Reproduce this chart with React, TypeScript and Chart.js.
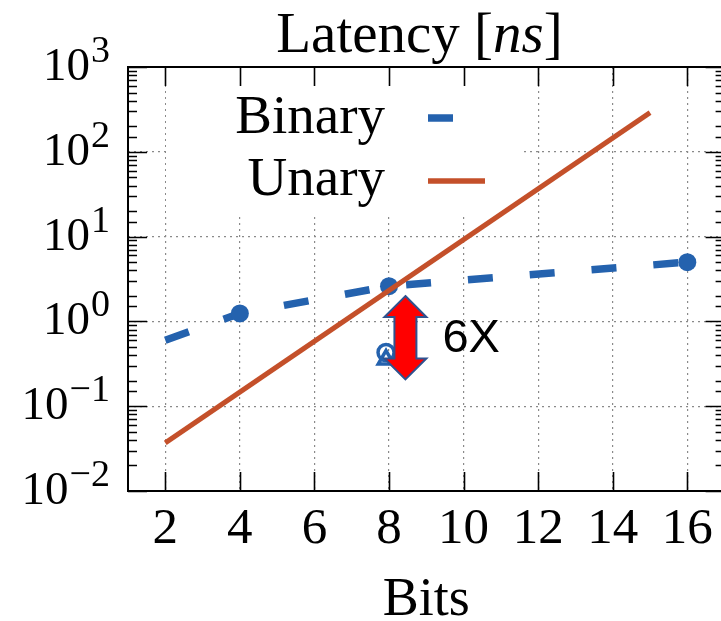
import { useEffect, useRef } from "react";
import { Chart, registerables } from "chart.js";

Chart.register(...registerables);

// ---------- data ----------
const xTicks = [2, 4, 6, 8, 10, 12, 14, 16];
const xMin = 1;
const xMax = 17;
const yDecades = [-2, -1, 0, 1, 2, 3];

const binaryBits = [2, 4, 8, 16];
const binaryLatency = [0.6, 1.24, 2.6, 5.0];
const binaryMarkerRadius = [0, 9, 9, 9];

const unaryBits = [2, 15];
const unaryLatency = [0.037, 290];

const optCircleBits = [7.92];
const optCircleLatency = [0.43];
const optTriangleBits = [7.92];
const optTriangleLatency = [0.355];

const arrowBits = 8.44;
const arrowLow = 0.207;
const arrowHigh = 1.99;
const arrowLabel = "6X";

const legendLabels = ["Binary", "Unary"];
const titleText = ["Latency [", "ns", "]"];
const xTitle = "Bits";

// ---------- styles ----------
const BLUE = "#2462AE";
const RED = "#C4502A";
const GRID = "#8a8a8a";
const SERIF = '"Liberation Serif", "Times New Roman", serif';
const SANS = '"Liberation Sans", Arial, sans-serif';

const toPts = (xs: number[], ys: number[]) => xs.map((x, i) => ({ x, y: ys[i] }));
const isDecade = (v: number) => {
  const l = Math.log10(v);
  return Math.abs(l - Math.round(l)) < 1e-6;
};

const decorPlugin = {
  id: "decor",
  beforeDatasetsDraw(chart: any) {
    const { ctx, chartArea } = chart;
    // opaque key box: hides the grid under the legend
    ctx.save();
    ctx.fillStyle = "#ffffff";
    ctx.fillRect(166, chartArea.top + 1, 523 - 166, 214 - chartArea.top - 1);
    ctx.restore();
  },
  afterDatasetsDraw(chart: any) {
    const { ctx } = chart;
    const xs = chart.scales.x;
    const ys = chart.scales.y;
    const cx = xs.getPixelForValue(arrowBits);
    const top = ys.getPixelForValue(arrowHigh);
    const bot = ys.getPixelForValue(arrowLow);
    const headW = 21;
    const shaftW = 11;
    const headH = 21;
    ctx.save();
    ctx.beginPath();
    ctx.moveTo(cx, top);
    ctx.lineTo(cx + headW, top + headH);
    ctx.lineTo(cx + shaftW, top + headH);
    ctx.lineTo(cx + shaftW, bot - headH);
    ctx.lineTo(cx + headW, bot - headH);
    ctx.lineTo(cx, bot);
    ctx.lineTo(cx - headW, bot - headH);
    ctx.lineTo(cx - shaftW, bot - headH);
    ctx.lineTo(cx - shaftW, top + headH);
    ctx.lineTo(cx - headW, top + headH);
    ctx.closePath();
    ctx.fillStyle = "#FF0000";
    ctx.fill();
    ctx.strokeStyle = "#2F528F";
    ctx.lineWidth = 2;
    ctx.lineJoin = "miter";
    ctx.stroke();
    // label
    ctx.fillStyle = "#000";
    ctx.font = `47px ${SANS}`;
    ctx.textAlign = "left";
    ctx.textBaseline = "alphabetic";
    ctx.fillText(arrowLabel, cx + 37, (top + bot) / 2 + 14);
    ctx.restore();
  },
  afterDraw(chart: any) {
    const { ctx, chartArea } = chart;
    const xs = chart.scales.x;
    const ys = chart.scales.y;
    const { left, right, top, bottom } = chartArea;
    ctx.save();
    // frame
    ctx.strokeStyle = "#000";
    ctx.lineWidth = 2;
    ctx.strokeRect(left, top, right - left, bottom - top);
    // x ticks (bottom + top, inward)
    ctx.lineWidth = 1.6;
    ctx.beginPath();
    xTicks.forEach((v) => {
      const px = Math.round(xs.getPixelForValue(v)) + 0.5;
      ctx.moveTo(px, bottom);
      ctx.lineTo(px, bottom - 19);
      ctx.moveTo(px, top);
      ctx.lineTo(px, top + 19);
    });
    // y ticks (left + right, inward), major + minor
    ys.ticks.forEach((t: any) => {
      const v = t.value;
      if (v < 0.0099 || v > 1001) return;
      const py = Math.round(ys.getPixelForValue(v)) + 0.5;
      const len = isDecade(v) ? 19 : 9;
      ctx.moveTo(left, py);
      ctx.lineTo(left + len, py);
      ctx.moveTo(right, py);
      ctx.lineTo(right - len, py);
    });
    ctx.stroke();

    // y tick labels 10^e
    ctx.fillStyle = "#000";
    ctx.textBaseline = "alphabetic";
    ctx.textAlign = "left";
    yDecades.forEach((e) => {
      const py = ys.getPixelForValue(Math.pow(10, e));
      const sup = e < 0 ? "\u2212" + Math.abs(e) : String(e);
      ctx.font = `38px ${SERIF}`;
      const supW = ctx.measureText(sup).width;
      ctx.font = `47px ${SERIF}`;
      const baseW = ctx.measureText("10").width;
      const supX = 110 - supW;
      const baseX = supX - baseW - 1;
      ctx.fillText("10", baseX, py + 13);
      ctx.font = `38px ${SERIF}`;
      ctx.fillText(sup, supX, py - 5);
    });

    // title
    const tFont = [`57px ${SERIF}`, `italic 57px ${SERIF}`, `57px ${SERIF}`];
    const widths = titleText.map((s, i) => {
      ctx.font = tFont[i];
      return ctx.measureText(s).width;
    });
    const total = widths.reduce((a, b) => a + b, 0);
    let tx = 419.5 - total / 2;
    titleText.forEach((s, i) => {
      ctx.font = tFont[i];
      ctx.fillText(s, tx, 52);
      tx += widths[i];
    });

    // legend
    ctx.font = `55px ${SERIF}`;
    ctx.textAlign = "right";
    ctx.fillText(legendLabels[0], 385, 133);
    ctx.fillText(legendLabels[1], 385, 195);
    ctx.lineCap = "butt";
    ctx.strokeStyle = BLUE;
    ctx.lineWidth = 7.5;
    ctx.setLineDash([25, 37]);
    ctx.beginPath();
    ctx.moveTo(428, 118);
    ctx.lineTo(485, 118);
    ctx.stroke();
    ctx.setLineDash([]);
    ctx.strokeStyle = RED;
    ctx.lineWidth = 5.5;
    ctx.beginPath();
    ctx.moveTo(428, 181);
    ctx.lineTo(485, 181);
    ctx.stroke();
    ctx.restore();
  },
};

export default function App() {
  const ref = useRef<HTMLCanvasElement>(null);
  useEffect(() => {
    const canvas = ref.current!;
    const chart = new Chart(canvas, {
      type: "line",
      data: {
        datasets: [
          {
            label: legendLabels[1],
            data: toPts(unaryBits, unaryLatency),
            borderColor: RED,
            borderWidth: 5,
            pointRadius: 0,
            fill: false,
            tension: 0,
            order: 0,
          },
          {
            label: legendLabels[0],
            data: toPts(binaryBits, binaryLatency),
            borderColor: BLUE,
            backgroundColor: BLUE,
            borderWidth: 7.5,
            borderDash: [25, 37],
            borderCapStyle: "butt",
            pointRadius: binaryMarkerRadius,
            pointBackgroundColor: BLUE,
            pointBorderWidth: 0,
            fill: false,
            tension: 0,
            order: 1,
          },
          {
            label: "opt-circle",
            data: toPts(optCircleBits, optCircleLatency),
            showLine: false,
            pointStyle: "circle",
            pointRadius: 8,
            pointBorderWidth: 3.5,
            pointBorderColor: BLUE,
            pointBackgroundColor: "rgba(255,255,255,0)",
            order: 3,
          },
          {
            label: "opt-triangle",
            data: toPts(optTriangleBits, optTriangleLatency),
            showLine: false,
            pointStyle: "triangle",
            pointRadius: 9,
            pointBorderWidth: 3.5,
            pointBorderColor: BLUE,
            pointBackgroundColor: "rgba(255,255,255,0)",
            order: 2,
          },
        ],
      },
      plugins: [decorPlugin],
      options: {
        animation: false,
        responsive: false,
        devicePixelRatio: 1,
        layout: { autoPadding: false, padding: { top: 67, right: 0.4, left: 0, bottom: 0 } },
        plugins: {
          legend: { display: false },
          title: { display: false },
          tooltip: { enabled: false },
        },
        scales: {
          x: {
            type: "linear",
            min: xMin,
            max: xMax,
            afterBuildTicks: (scale: any) => {
              scale.ticks = xTicks.map((v) => ({ value: v }));
            },
            afterFit: (scale: any) => {
              scale.height = 130;
              scale.paddingLeft = 0;
              scale.paddingRight = 0;
            },
            grid: {
              color: GRID,
              lineWidth: 1.2,
              drawTicks: false,
            },
            border: { display: false, dash: [2, 4] },
            ticks: {
              color: "#000",
              font: { family: SERIF, size: 51 },
              padding: 8,
              maxRotation: 0,
              autoSkip: false,
            },
            title: {
              display: true,
              text: xTitle,
              color: "#000",
              font: { family: SERIF, size: 54, lineHeight: 0.74 },
              padding: 0,
            },
          },
          y: {
            type: "logarithmic",
            min: 0.01,
            max: 1000,
            afterFit: (scale: any) => {
              scale.width = 128;
              scale.paddingTop = 0;
              scale.paddingBottom = 0;
            },
            grid: {
              color: (c: any) => (c.tick && isDecade(c.tick.value) ? GRID : "rgba(0,0,0,0)"),
              lineWidth: 1.2,
              drawTicks: false,
            },
            border: { display: false, dash: [2, 4] },
            ticks: { display: false },
          },
        },
      },
    } as any);
    return () => chart.destroy();
  }, []);

  return (
    <div
      style={{
        position: "fixed",
        left: 0,
        top: 0,
        width: 721,
        height: 621,
        overflow: "hidden",
        background: "#fff",
      }}
    >
      <canvas ref={ref} width={725} height={621} style={{ display: "block", width: 725, height: 621 }} />
    </div>
  );
}
